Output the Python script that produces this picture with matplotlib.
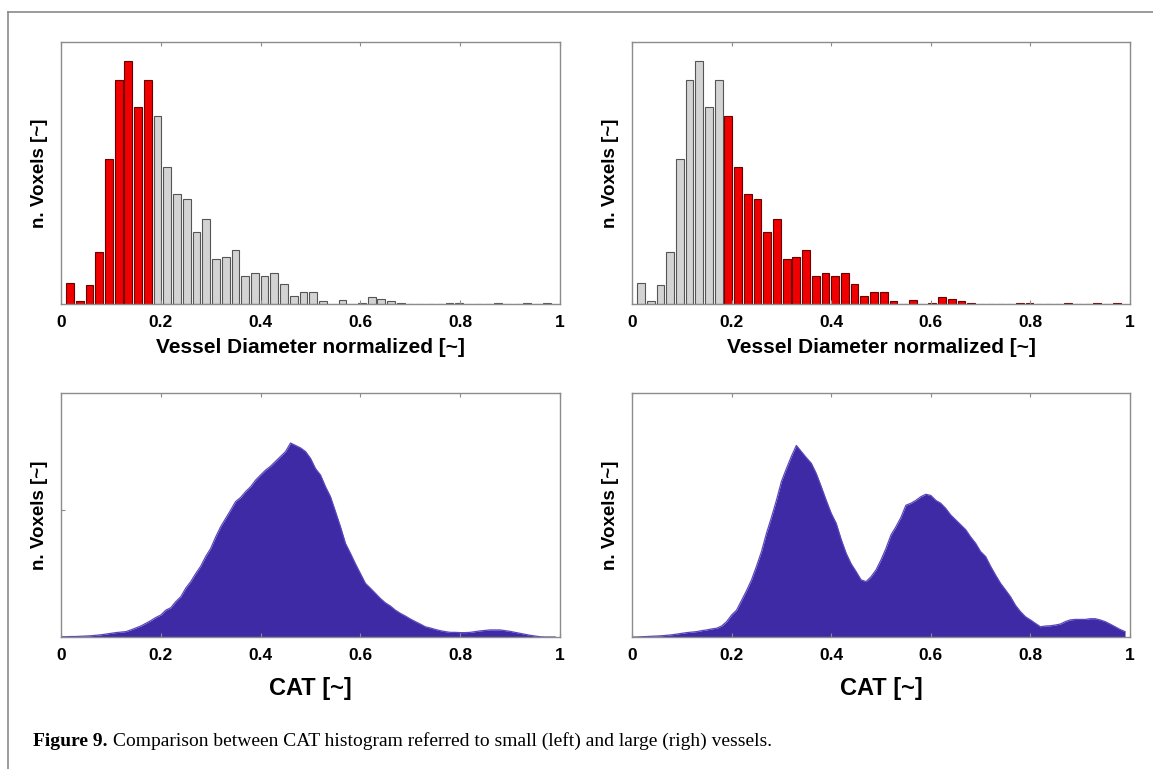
import numpy as np
import matplotlib.pyplot as plt
from matplotlib.lines import Line2D

# vessel diameter histogram (50 bins, normalized heights), same data in both top panels
diam_start = 0.018
diam_step = 0.0195
diam_counts = [0.080, 0.013, 0.072, 0.200, 0.554, 0.855, 0.929, 0.753, 0.855, 0.716,
               0.522, 0.421, 0.401, 0.273, 0.326, 0.173, 0.181, 0.207, 0.106, 0.120,
               0.106, 0.120, 0.078, 0.030, 0.044, 0.044, 0.011, 0.000, 0.017, 0.000,
               0.004, 0.026, 0.018, 0.011, 0.004, 0.000, 0.000, 0.000, 0.000, 0.004,
               0.004, 0.000, 0.000, 0.000, 0.004, 0.000, 0.000, 0.004, 0.000, 0.004]
split_bin = 9  # first bin of the "large" group

# CAT histograms, one value per 0.01
cat_step = 0.01
cat_small = [0.001, 0.001, 0.002, 0.002, 0.003, 0.004, 0.005, 0.007, 0.009, 0.012,
             0.015, 0.018, 0.020, 0.022, 0.029, 0.037, 0.045, 0.056, 0.067, 0.080,
             0.090, 0.110, 0.120, 0.145, 0.165, 0.200, 0.227, 0.260, 0.290, 0.330,
             0.363, 0.410, 0.452, 0.486, 0.520, 0.555, 0.572, 0.596, 0.616, 0.643,
             0.664, 0.684, 0.700, 0.720, 0.740, 0.760, 0.795, 0.785, 0.775, 0.760,
             0.732, 0.690, 0.664, 0.616, 0.575, 0.514, 0.452, 0.384, 0.343, 0.300,
             0.260, 0.220, 0.200, 0.179, 0.158, 0.140, 0.127, 0.110, 0.097, 0.086,
             0.074, 0.063, 0.053, 0.042, 0.037, 0.031, 0.026, 0.022, 0.019, 0.019,
             0.018, 0.018, 0.019, 0.022, 0.025, 0.027, 0.029, 0.029, 0.029, 0.026,
             0.023, 0.019, 0.015, 0.011, 0.007, 0.004, 0.001, 0.000, 0.000, 0.000]
cat_large = [0.000, 0.000, 0.001, 0.002, 0.003, 0.004, 0.005, 0.007, 0.009, 0.012,
             0.015, 0.018, 0.020, 0.022, 0.026, 0.029, 0.033, 0.036, 0.045, 0.063,
             0.090, 0.110, 0.150, 0.190, 0.234, 0.290, 0.350, 0.425, 0.490, 0.560,
             0.637, 0.690, 0.740, 0.785, 0.760, 0.735, 0.712, 0.670, 0.616, 0.560,
             0.507, 0.466, 0.400, 0.343, 0.300, 0.268, 0.234, 0.227, 0.247, 0.275,
             0.316, 0.363, 0.418, 0.452, 0.490, 0.540, 0.548, 0.560, 0.575, 0.585,
             0.580, 0.560, 0.548, 0.527, 0.500, 0.480, 0.460, 0.440, 0.410, 0.384,
             0.350, 0.330, 0.290, 0.254, 0.220, 0.193, 0.165, 0.130, 0.104, 0.083,
             0.070, 0.056, 0.042, 0.045, 0.046, 0.049, 0.053, 0.063, 0.070, 0.072,
             0.072, 0.072, 0.075, 0.075, 0.070, 0.063, 0.053, 0.042, 0.031, 0.022]

xticks = [0, 0.2, 0.4, 0.6, 0.8, 1]
xtick_labels = ['0', '0.2', '0.4', '0.6', '0.8', '1']

RED = '#f00000'
GRAY = '#d3d3d3'
INDIGO = '#3f2aa6'
SPINE = '#8c8c8c'

plt.rcParams['font.family'] = ['Liberation Sans', 'DejaVu Sans']

W, H = 1153, 769
fig = plt.figure(figsize=(W / 100, H / 100), dpi=100)


def px_axes(x0, y0, x1, y1):
    return fig.add_axes([x0 / W, 1 - y1 / H, (x1 - x0) / W, (y1 - y0) / H])


def style(ax, xlabel, xlabel_size, pad):
    ax.set_xlim(0, 1)
    ax.set_ylim(0, 1)
    for s in ax.spines.values():
        s.set_color(SPINE)
        s.set_linewidth(1)
    ax.set_xticks(xticks)
    ax.set_xticklabels(xtick_labels, fontsize=12.5, fontweight='bold')
    ax.tick_params(axis='x', direction='in', length=3, color=SPINE, top=True, pad=8)
    ax.set_yticks([])
    ax.set_ylabel('n. Voxels [~]', fontsize=13.5, fontweight='bold')
    ax.yaxis.set_label_coords(-0.027, 0.5)
    ax.set_xlabel(xlabel, fontsize=xlabel_size, fontweight='bold', labelpad=pad)


diam_x = diam_start + diam_step * np.arange(len(diam_counts))
small_cols = [RED if i < split_bin else GRAY for i in range(len(diam_counts))]
large_cols = [GRAY if i < split_bin else RED for i in range(len(diam_counts))]

for (x0, x1), cols in [((61, 560), small_cols), ((632, 1130), large_cols)]:
    ax = px_axes(x0, 42, x1, 304)
    edges = ['#6b0000' if c == RED else '#555555' for c in cols]
    ax.bar(diam_x, diam_counts, width=diam_step * 0.8, color=cols,
           edgecolor=edges, linewidth=0.8)
    style(ax, 'Vessel Diameter normalized [~]', 15, 6)

cat_x = cat_step * np.arange(len(cat_small))
for i, ((x0, x1), vals) in enumerate([((61, 560), cat_small), ((632, 1130), cat_large)]):
    ax = px_axes(x0, 393, x1, 637)
    ax.fill_between(cat_x, vals, 0, color=INDIGO, linewidth=0)
    ax.plot(cat_x, vals, color='#5a48bd', linewidth=0.9)
    style(ax, 'CAT [~]', 17, 10)
    if i == 0:
        ax.set_yticks([0.52])
        ax.set_yticklabels([''])
        ax.tick_params(axis='y', direction='in', length=3, color=SPINE, right=False)

# outer frame of the figure panel
fig.add_artist(Line2D([8 / W, 1], [1 - 12 / H, 1 - 12 / H], color='#8a8a8a', lw=1.2))
fig.add_artist(Line2D([8 / W, 8 / W], [0, 1 - 12 / H], color='#8a8a8a', lw=1.2))

cap1 = fig.text(33 / W, 1 - 741 / H, 'Figure 9.', fontsize=14, fontweight='bold',
                family=['Liberation Serif', 'DejaVu Serif'], va='center')
fig.axes[0].annotate('Comparison between CAT histogram referred to small (left) and large (righ) vessels.',
                     xy=(1, 0.5), xycoords=cap1, xytext=(4, 0), textcoords='offset points',
                     va='center', fontsize=14, family=['Liberation Serif', 'DejaVu Serif'],
                     annotation_clip=False)

plt.savefig('out.png', dpi=100)
